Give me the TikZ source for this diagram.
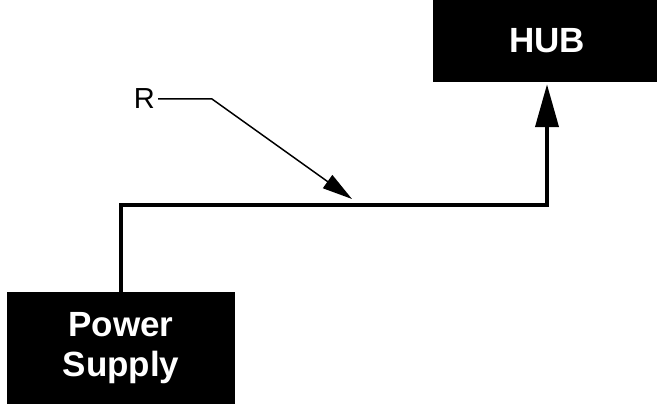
\documentclass[tikz,border=0pt]{standalone}
\usepackage{fontspec}
\setmainfont{Liberation Sans}
\usetikzlibrary{positioning, arrows.meta}

\tikzset{
  blockbox/.style={fill=black, text=white, inner sep=0pt, align=center,
    font=\fontsize{35}{40}\selectfont\bfseries},
  wire/.style={line width=4pt, -{Triangle[length=43pt, width=23pt]}, shorten >=2pt},
  pointer/.style={line width=1.5pt, -{Triangle[length=30pt, width=16pt]}}
}

\begin{document}
\begin{tikzpicture}[x=1pt, y=-1pt]
    \useasboundingbox (0,0) rectangle (657,404);
    \node[blockbox, minimum width=228pt, minimum height=82pt] (hub) at (547,41) {HUB};
    \node[blockbox, minimum width=228pt, minimum height=112pt] (ps) at (121,348) {Power\\Supply};
    \node[font=\fontsize{29}{34}\selectfont, anchor=east, inner sep=3pt] (r) at (158,99) {R};
    \coordinate (rbend) at (212,99);
    \coordinate (rtip) at (352,199);
    \draw[wire] (ps.north) -- ++(0,-87) -| (hub.south);
    \draw[pointer] (r.east) -- (rbend) -- (rtip);
\end{tikzpicture}
\end{document}
